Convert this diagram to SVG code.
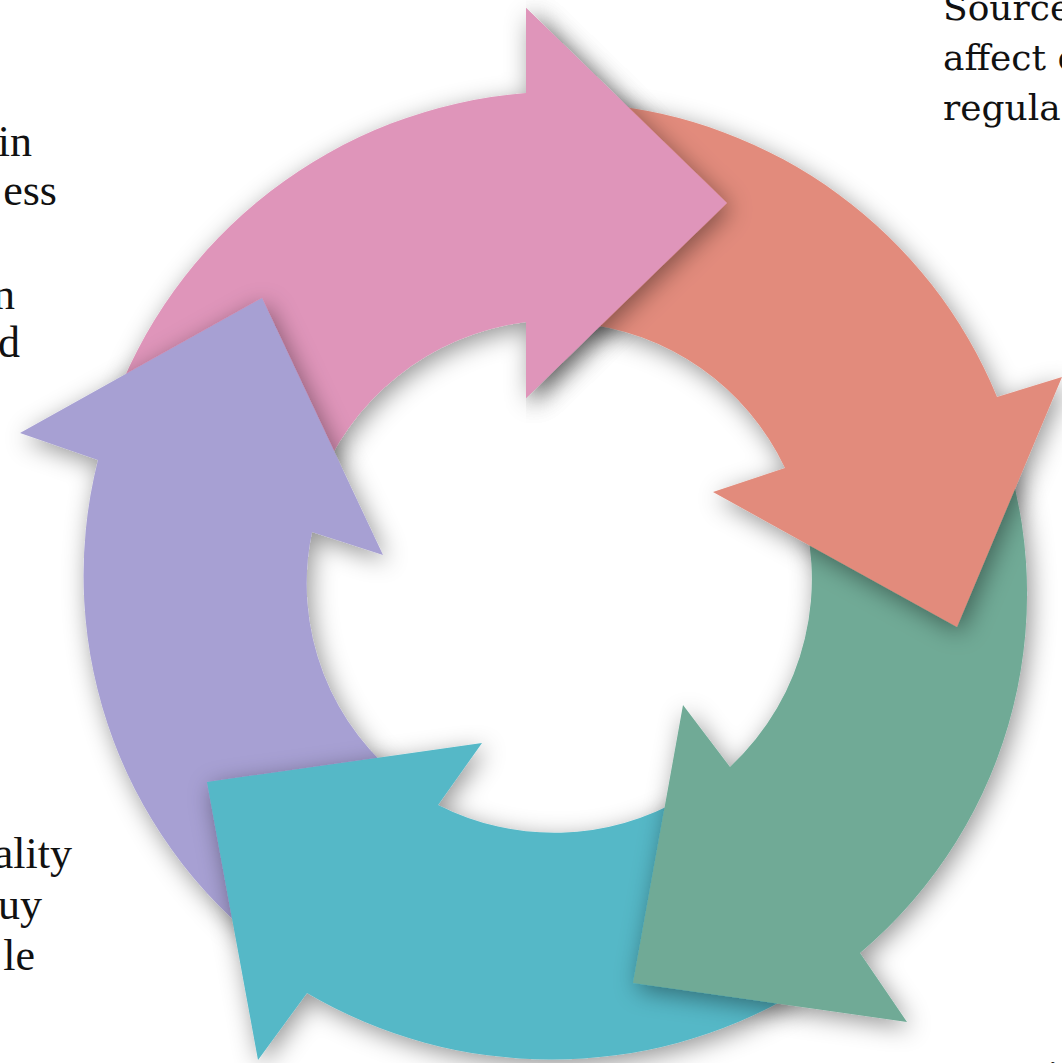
<svg xmlns="http://www.w3.org/2000/svg" width="1062" height="1063" viewBox="0 0 1062 1063">
<defs>
<filter id="sh" x="-20%" y="-20%" width="140%" height="140%">
<feDropShadow dx="4" dy="6" stdDeviation="12" flood-color="#000" flood-opacity="0.42"/>
</filter>
<clipPath id="clipR"><rect x="526" y="0" width="540" height="1063"/></clipPath>
<path id="pinkShape" d="M110,414 A480,480 0 0 1 526,93 L526,8 L727,203 L526,398 L526,322 A258,258 0 0 0 316,490 Z"/>
<style>
.t{font-family:"Liberation Serif","Times New Roman",serif;font-size:44px;fill:#111}
.r{font-family:"DejaVu Serif","Liberation Serif",serif;font-size:36px;fill:#111}
.pink{fill:#DF95BA}.salmon{fill:#E28B7C}.green{fill:#6FAA96}.cyan{fill:#54B8C7}.purple{fill:#A7A0D3}
</style>
</defs>
<rect width="1062" height="1063" fill="#fff"/>
<g id="texts">
<text class="t" x="32" y="156" text-anchor="end">in</text>
<text class="t" x="57" y="205" text-anchor="end">ess</text>
<text class="t" x="15" y="309" text-anchor="end">n</text>
<text class="t" x="20" y="357" text-anchor="end">d</text>
<text class="t" x="72" y="868" text-anchor="end">ality</text>
<text class="t" x="42" y="919" text-anchor="end">uy</text>
<text class="t" x="35" y="970" text-anchor="end">le</text>
<text class="r" x="943" y="20">Source</text>
<text class="r" x="943" y="70">affect o</text>
<text class="r" x="943" y="120">regula</text>
<text class="t" x="1047" y="1091">i</text>
</g>
<g id="arrow-pink" filter="url(#sh)">
<use href="#pinkShape" class="pink"/>
</g>
<g id="arrow-purple" filter="url(#sh)">
<path class="purple" d="M286,962 A470,470 0 0 1 98,460 L20,433 L262,298 L383,555 L312,532 A250,250 0 0 0 410,786 Z"/>
</g>
<g id="arrow-cyan" filter="url(#sh)">
<path class="cyan" d="M796,993 A482,482 0 0 1 307,993 L258,1060 L207,782 L482,743 L438,805 A256,256 0 0 0 683,798 Z"/>
</g>
<g id="arrow-green" filter="url(#sh)">
<path class="green" d="M993,418 A470,470 0 0 1 860,953 L907,1022 L633,983 L683,705 L730,767 A257,257 0 0 0 796,490 Z"/>
</g>
<g id="arrow-salmon" filter="url(#sh)">
<path class="salmon" d="M597,104 A475,475 0 0 1 997,397 L1062,377 L957,627 L713,492 L785,468 A255,255 0 0 0 578,323 Z"/>
</g>
<g id="arrow-pink-head" clip-path="url(#clipR)">
<use href="#pinkShape" class="pink" filter="url(#sh)"/>
</g>
</svg>
